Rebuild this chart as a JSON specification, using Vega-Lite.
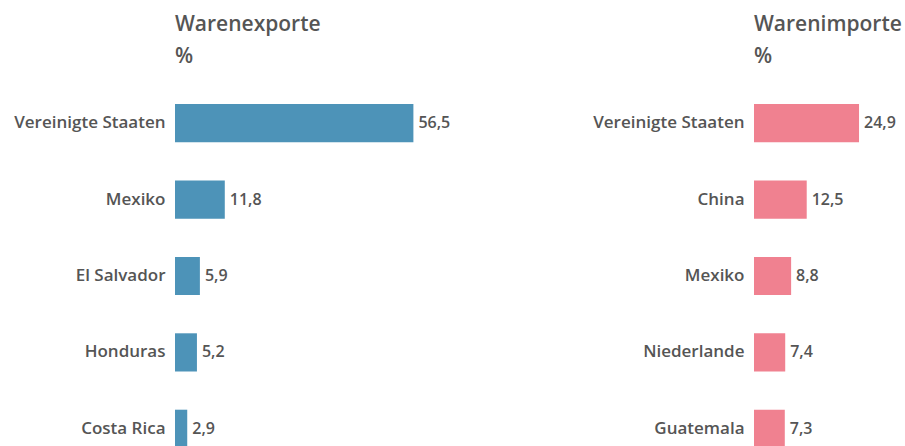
{
  "$schema": "https://vega.github.io/schema/vega-lite/v6.json",
  "padding": {"left": 5, "top": 14, "right": 0, "bottom": 0},
  "background": "white",
  "spacing": 279,
  "bounds": "flush",
  "config": {
    "view": {"stroke": null},
    "font": "Open Sans",
    "locale": {"number": {"decimal": ",", "thousands": ".", "grouping": [3], "currency": ["", " €"]}},
    "title": {"anchor": "start", "frame": "group", "fontSize": 21, "fontWeight": 600, "color": "#555555", "lineHeight": 32, "offset": 18, "font": "Open Sans"},
    "axis": {"labelFont": "Open Sans"}
  },
  "datasets": {
    "exporte": [
      {"land": "Vereinigte Staaten", "anteil": 56.5},
      {"land": "Mexiko", "anteil": 11.8},
      {"land": "El Salvador", "anteil": 5.9},
      {"land": "Honduras", "anteil": 5.2},
      {"land": "Costa Rica", "anteil": 2.9}
    ],
    "importe": [
      {"land": "Vereinigte Staaten", "anteil": 24.9},
      {"land": "China", "anteil": 12.5},
      {"land": "Mexiko", "anteil": 8.8},
      {"land": "Niederlande", "anteil": 7.4},
      {"land": "Guatemala", "anteil": 7.3}
    ]
  },
  "hconcat": [
    {
      "title": {"text": ["Warenexporte", "%"]},
      "width": 300,
      "height": 382,
      "data": {"name": "exporte"},
      "encoding": {
        "y": {"field": "land", "type": "nominal", "sort": "-x",
              "scale": {"paddingInner": 0.5, "paddingOuter": 0.25},
              "axis": {"title": null, "domain": false, "ticks": false, "labelPadding": 10, "labelFontSize": 17, "labelFontWeight": 600, "labelColor": "#555555", "minExtent": 170, "maxExtent": 170}},
        "x": {"field": "anteil", "type": "quantitative", "scale": {"domain": [0, 71.1]}, "axis": null}
      },
      "layer": [
        {"mark": {"type": "bar", "color": "#4d93b8"}},
        {"mark": {"type": "text", "align": "left", "dx": 5, "fontSize": 16, "fontWeight": 600, "color": "#555555"},
         "encoding": {"text": {"field": "anteil", "type": "quantitative", "format": ".1f"}}}
      ]
    },
    {
      "title": {"text": ["Warenimporte", "%"]},
      "width": 151,
      "height": 382,
      "data": {"name": "importe"},
      "encoding": {
        "y": {"field": "land", "type": "nominal", "sort": "-x",
              "scale": {"paddingInner": 0.5, "paddingOuter": 0.25},
              "axis": {"title": null, "domain": false, "ticks": false, "labelPadding": 10, "labelFontSize": 17, "labelFontWeight": 600, "labelColor": "#555555", "minExtent": 170, "maxExtent": 170}},
        "x": {"field": "anteil", "type": "quantitative", "scale": {"domain": [0, 35.8]}, "axis": null}
      },
      "layer": [
        {"mark": {"type": "bar", "color": "#f08190"}},
        {"mark": {"type": "text", "align": "left", "dx": 5, "fontSize": 16, "fontWeight": 600, "color": "#555555"},
         "encoding": {"text": {"field": "anteil", "type": "quantitative", "format": ".1f"}}}
      ]
    }
  ]
}
